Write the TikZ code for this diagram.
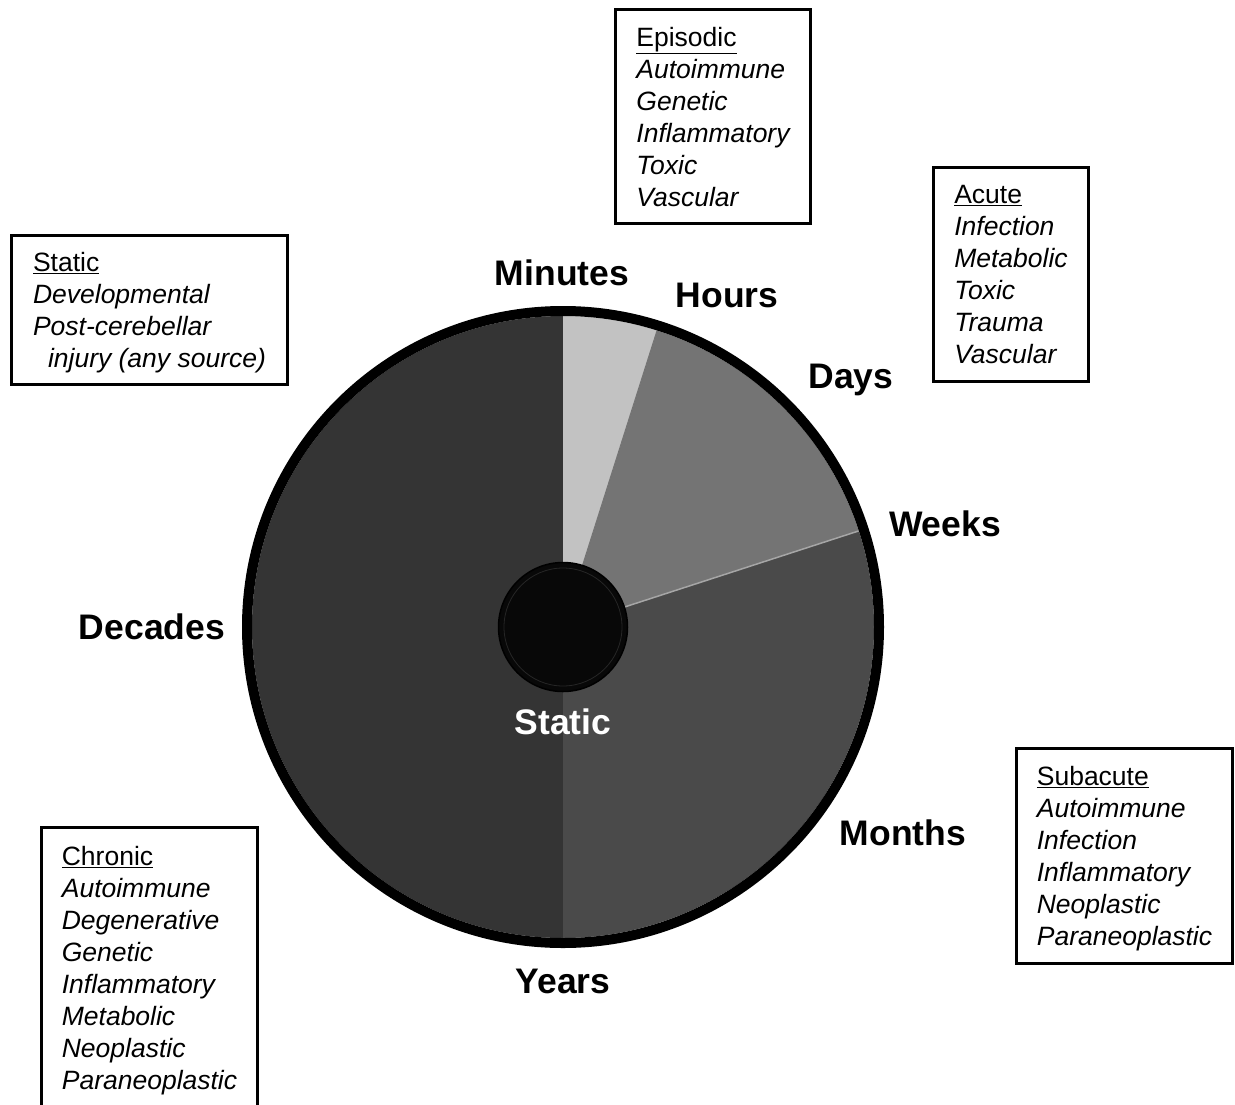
\documentclass[tikz,border=0pt]{standalone}
\usepackage{fontspec}
\setmainfont{Liberation Sans}
\usetikzlibrary{positioning}

\definecolor{lightslice}{HTML}{C2C2C2}
\definecolor{midslice}{HTML}{747474}
\definecolor{darkslice}{HTML}{4A4A4A}
\definecolor{deepslice}{HTML}{343434}

\begin{document}
\begin{tikzpicture}[
    x=1pt,y=-1pt,
    box/.style={draw,line width=3pt,anchor=north west,align=left,
                font=\fontsize{26.5}{32}\selectfont,inner xsep=17pt,
                inner ysep=0pt,text depth=0pt},
    tick/.style={font=\fontsize{35.5}{40}\selectfont\bfseries},
  ]
    \useasboundingbox (0,0) rectangle (1235,1104);

    % pie
    \begin{scope}[shift={(563,627)},y=1pt]
      \fill[deepslice] (0,0) -- (90:311) arc[start angle=90,end angle=270,radius=311] -- cycle;
      \fill[darkslice] (0,0) -- (-90:311) arc[start angle=-90,end angle=18,radius=311] -- cycle;
      \fill[midslice] (0,0) -- (18:311) arc[start angle=18,end angle=72.4,radius=311] -- cycle;
      \fill[lightslice] (0,0) -- (72.4:311) arc[start angle=72.4,end angle=90,radius=311] -- cycle;
      \draw[gray!70,line width=1.5pt] (0,0) -- (18:311);
      \draw[black!55,line width=1pt] (0,0) -- (72.4:311);
      \draw[line width=10pt] (0,0) circle[radius=316];
      \node[circle,fill=black!97,draw=black,line width=1.5pt,minimum size=129pt,inner sep=0pt] (hub) at (0,0) {};
      \draw[black!85,line width=0.8pt] (hub.center) circle[radius=59];
    \end{scope}

    % time labels
    \node[tick] (minutes) at (562,273) {Minutes};
    \node[tick] (hours) at (727,295) {Hours};
    \node[tick] (days) at (851,380) {Days};
    \node[tick] (weeks) at (945,524) {Weeks};
    \node[tick] (months) at (903,833) {Months};
    \node[tick] (years) at (563,981) {Years};
    \node[tick] (decades) at (152,627) {Decades};
    \node[tick,text=white] (static) at (563,722) {Static};

    % categories
    \node[box,minimum width=195pt,minimum height=214pt] (episodic) at (614,8)
      {\underline{Episodic}\\ \itshape Autoimmune\\ \itshape Genetic\\
       \itshape Inflammatory\\ \itshape Toxic\\ \itshape Vascular};
    \node[box,minimum width=155pt,minimum height=214pt] (acute) at (932,166)
      {\underline{Acute}\\ \itshape Infection\\ \itshape Metabolic\\
       \itshape Toxic\\ \itshape Trauma\\ \itshape Vascular};
    \node[box,minimum width=276pt,minimum height=149pt] (fixed) at (10,234)
      {\underline{Static}\\ \itshape Developmental\\ \itshape Post-cerebellar\\
       \itshape \hspace*{15pt}injury (any source)};
    \node[box,minimum width=216pt,minimum height=280pt] (chronic) at (40,826)
      {\underline{Chronic}\\ \itshape Autoimmune\\ \itshape Degenerative\\
       \itshape Genetic\\ \itshape Inflammatory\\ \itshape Metabolic\\
       \itshape Neoplastic\\ \itshape Paraneoplastic};
    \node[box,minimum width=216pt,minimum height=215pt] (subacute) at (1015,747)
      {\underline{Subacute}\\ \itshape Autoimmune\\ \itshape Infection\\
       \itshape Inflammatory\\ \itshape Neoplastic\\ \itshape Paraneoplastic};
  \end{tikzpicture}
\end{document}
